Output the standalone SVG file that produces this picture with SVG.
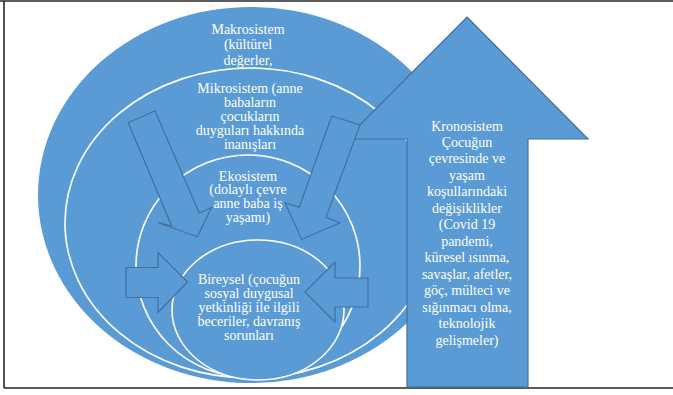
<svg xmlns="http://www.w3.org/2000/svg" width="673" height="395" viewBox="0 0 673 395">
<style>
.bg{fill:#ffffff}
.ell{fill:#5B9BD5}
.ring{fill:#5B9BD5;stroke:#ffffff;stroke-width:1.6}
.arr{fill:#5B9BD5;stroke:#41719C;stroke-width:1.2;stroke-linejoin:miter}
.frame{stroke:#262626;stroke-width:1.6;fill:none}
.lbl{font-family:'Liberation Serif','Times New Roman',serif;font-size:14px;fill:#ffffff;text-anchor:middle}
</style>
<rect class="bg" x="0" y="0" width="673" height="395"/>
<g id="frame">
<line class="frame" x1="0" y1="1" x2="673" y2="1"/>
<line class="frame" x1="4" y1="1" x2="4" y2="388"/>
<line class="frame" x1="4" y1="388" x2="673" y2="388"/>
</g>
<g id="makrosistem">
<ellipse class="ell" cx="251" cy="195" rx="213" ry="188"/>
</g>
<g id="mikrosistem">
<ellipse class="ring" cx="250" cy="223" rx="185" ry="155"/>
</g>
<g id="ekosistem">
<ellipse class="ring" cx="248" cy="266" rx="112" ry="111"/>
</g>
<g id="bireysel">
<ellipse class="ring" cx="258" cy="310" rx="86" ry="70"/>
</g>
<g id="kronosistem">
<polygon class="arr" points="467,17 588,139 528,139 528,387 407,387 407,139 346,139"/>
</g>
<g id="connectors">
<polygon class="arr" points="128.3,122.7 155,110.7 199.3,213.3 211.7,207.3 197.3,236.7 158.3,222.7 171.7,226"/>
<polygon class="arr" points="331.7,116 360,125 326,217.3 340,222.7 301.7,239.3 285,202.7 299.3,207.3"/>
<polygon class="arr" points="126,267.5 158,267.5 158,252.5 187.5,282 158,312.5 158,297.5 126,297.5"/>
<polygon class="arr" points="368,278 335,278 335,262 305,292 335,322 335,307 368,307"/>
</g>
<g id="labels" class="lbl" font-family="Liberation Serif, Times New Roman, serif" font-size="14" fill="#ffffff" text-anchor="middle">
<text x="248" y="33.5">Makrosistem</text>
<text x="248" y="49">(kültürel</text>
<text x="248" y="64.5">değerler,</text>
<text x="250" y="92.5">Mikrosistem (anne</text>
<text x="250" y="106.5">babaların</text>
<text x="250" y="120.5">çocukların</text>
<text x="250" y="134.5">duyguları hakkında</text>
<text x="250" y="148.5">inanışları</text>
<text x="248" y="180.5">Ekosistem</text>
<text x="248" y="194.2">(dolaylı çevre</text>
<text x="248" y="207.9">anne baba iş</text>
<text x="248" y="221.6">yaşamı)</text>
<text x="249" y="283.5">Bireysel (çocuğun</text>
<text x="249" y="297.5">sosyal duygusal</text>
<text x="249" y="311.5">yetkinliği ile ilgili</text>
<text x="249" y="325.5">beceriler, davranış</text>
<text x="249" y="339.5">sorunları</text>
<text x="467" y="130.5">Kronosistem</text>
<text x="467" y="147">Çocuğun</text>
<text x="467" y="163.4">çevresinde ve</text>
<text x="467" y="179.9">yaşam</text>
<text x="467" y="196.3">koşullarındaki</text>
<text x="467" y="212.8">değişiklikler</text>
<text x="467" y="229.3">(Covid 19</text>
<text x="467" y="245.7">pandemi,</text>
<text x="467" y="262.2">küresel ısınma,</text>
<text x="467" y="278.6">savaşlar, afetler,</text>
<text x="467" y="295.1">göç, mülteci ve</text>
<text x="467" y="311.6">sığınmacı olma,</text>
<text x="467" y="328">teknolojik</text>
<text x="467" y="344.5">gelişmeler)</text>
</g>
</svg>
